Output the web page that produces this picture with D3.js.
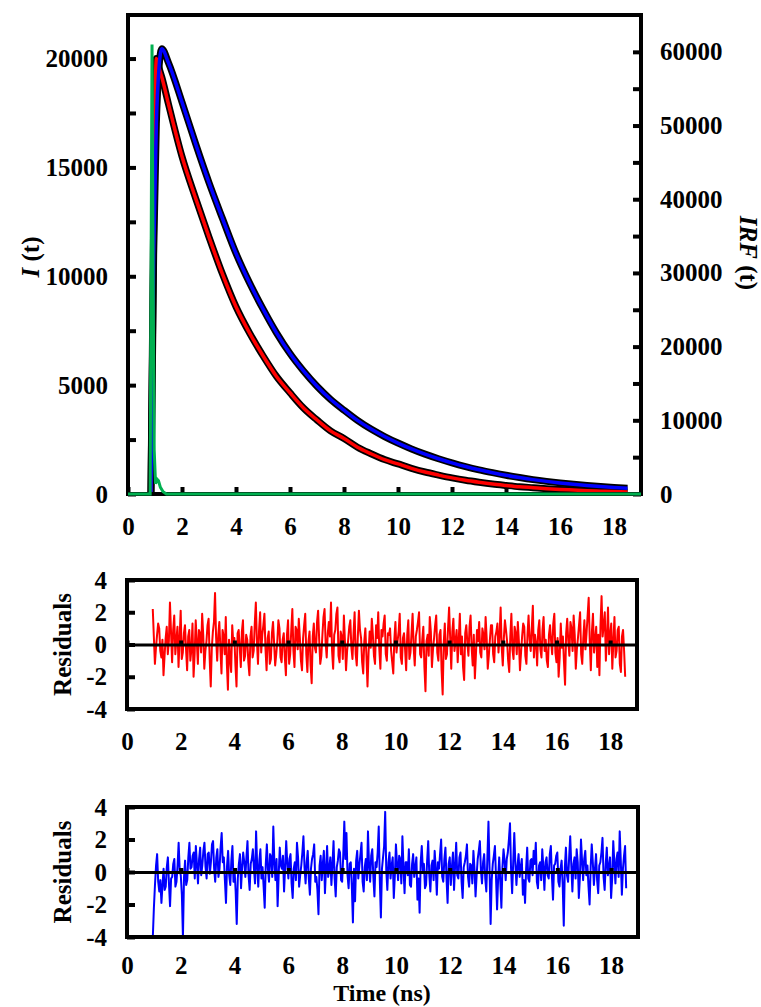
<!DOCTYPE html>
<html>
<head>
<meta charset="utf-8">
<script src="https://cdn.jsdelivr.net/npm/d3@7"></script>
<style>
body { margin: 0; background: #fff; }
svg text {
    font-family: "Liberation Serif", "Times New Roman", serif;
    font-weight: bold;
    font-size: 25px;
}
</style>
</head>
<body>
<svg id="chart" width="761" height="1007"></svg>
<script>
/*global d3 */
"use strict";

// decay curves (ns, counts)
var decayTime = [0.85, 0.95, 1.05, 1.15, 1.25, 1.5, 2, 2.5, 3, 3.5, 4,
        4.5, 5, 5.5, 6, 6.5, 7, 7.5, 8, 8.5, 9, 9.5, 10, 10.5, 11, 11.5,
        12, 12.5, 13, 13.5, 14, 14.5, 15, 15.5, 16, 16.5, 17, 17.5, 18,
        18.5];
var redDecay = [0, 12500, 20000, 19550, 19150, 17900, 15500, 13600,
        11800, 10100, 8600, 7400, 6350, 5400, 4650, 3950, 3400, 2900, 2550,
        2150, 1850, 1580, 1380, 1180, 1010, 870, 740, 630, 540, 460, 395,
        335, 290, 245, 210, 180, 150, 130, 110, 95];
var blueDecay = [0, 11000, 17000, 19600, 20450, 19800, 18000, 16100,
        14300, 12650, 11050, 9700, 8500, 7400, 6450, 5650, 4950, 4350, 3850,
        3380, 2980, 2640, 2340, 2070, 1830, 1620, 1430, 1260, 1110, 980, 860,
        755, 660, 580, 510, 450, 395, 345, 300, 260];

// instrument response, right axis
var irfTime = [0, 0.82, 0.86, 0.89, 0.93, 0.97, 1.02, 1.08, 1.13, 1.2,
        1.3, 1.42, 19];
var irfValues = [0, 0, 35000, 61000, 30000, 6000, 1400, 2000, 1800, 900,
        300, 0, 0];

// weighted residuals, one value per channel
var residualStart = 0.96; // ns
var residualStep = 0.04; // ns
var redResidual = [
    2.2, 0.5, -1.2, -0.2, 0.6, 1.3, 1.0, -0.4, -0.8, 0.3,
    -1.9, -0.7, 0.4, 1.1, -0.6, 0.2, 2.6, 0.8, -1.1, 0.9,
    1.8, -0.6, 0.3, 1.1, -1.4, 0.4, 2.1, -0.9, -0.5, 0.7,
    1.2, -0.3, -1.6, 0.5, 0.9, -1.0, -0.3, 1.3, -2.0, -0.6,
    1.5, 0.2, -1.2, 0.9, 0.7, -0.5, 1.9, 0.6, -1.5, -0.4,
    0.2, 1.2, 1.6, -0.9, -2.6, -0.2, 0.8, 1.4, 3.2, 0.4,
    -1.0, 0.6, 1.4, -0.3, -1.8, 0.9, 0.5, -0.6, 1.7, -1.2,
    -2.8, 0.3, -0.9, -1.7, 1.2, 0.1, 0.4, -1.3, -2.6, 0.7,
    0.9, -0.2, -1.4, 0.8, 1.5, -1.0, -0.7, 0.6, 0.3, -1.1,
    -1.9, 0.5, 1.1, -0.8, -0.4, 1.3, 2.6, 0.2, -1.2, 0.9,
    2.0, -0.5, 0.6, 1.2, 1.9, -0.3, -1.6, 0.4, 0.8, -1.2,
    -0.9, 0.7, 1.4, 0.1, -1.3, -0.6, 0.2, 1.5, 1.0, -0.8,
    -1.1, 0.3, 0.7, -0.8, -1.9, 0.6, 1.5, -1.2, -0.6, 0.9,
    2.2, -0.4, -1.4, 1.1, 0.9, -0.3, 1.6, 0.4, -1.0, -1.6,
    0.4, 1.2, 1.9, -0.6, -1.7, 0.2, 0.8, -1.3, -2.4, 0.5,
    1.3, -0.2, -0.5, 1.4, 2.1, 0.3, -1.2, -0.7, 0.6, 1.7,
    2.2, 0.1, -0.8, 0.7, 1.4, 0.5, 2.6, -0.4, -1.5, 0.6,
    0.9, 1.9, 2.3, -0.7, -1.1, 0.8, 0.5, -0.9, 1.8, 0.2,
    -1.6, -0.4, 0.3, 1.1, 1.5, -0.2, -0.9, 0.7, 2.0, -0.6,
    -1.3, 0.5, 2.1, 0.9, 0.4, -1.1, -1.8, 0.2, 1.0, -0.7,
    -2.6, -0.5, 0.8, -0.2, 1.6, 0.6, -0.7, -1.2, 1.2, 0.4,
    2.0, -0.3, -1.5, 0.9, 0.5, 1.3, 1.8, -0.6, -1.0, 0.7,
    0.6, 1.0, -0.4, -1.1, -1.8, 0.3, 1.4, -0.5, 0.2, 0.8,
    1.9, -0.8, -1.2, 0.4, 0.7, -0.3, -1.6, 0.6, 1.5, -0.9,
    -0.5, 0.7, 1.9, -0.2, -1.3, 0.5, 0.9, 1.4, 2.0, -0.6,
    -0.8, 0.3, 1.1, -1.4, -2.9, 0.2, 0.6, -0.7, 1.7, 0.8,
    -1.4, -0.3, 0.4, 1.2, 1.8, -0.5, -1.0, 0.6, 0.9, -1.6,
    -3.1, 0.1, 1.3, -0.9, -0.6, 1.0, 2.3, 0.4, -1.5, 0.8,
    1.6, -0.4, 0.2, 0.9, -1.1, 0.3, 1.9, -0.6, 0.5, -1.4,
    -2.2, 0.7, 1.2, 0.1, -0.7, 1.1, 1.8, -0.2, -1.3, 0.6,
    -2.1, -0.6, 0.9, 0.2, 1.4, -0.5, -0.8, 1.0, 0.6, -0.3,
    1.7, 0.4, -1.5, -0.7, 0.3, 1.2, 1.2, -0.6, -1.1, 0.5,
    0.8, 1.3, -0.5, 0.6, 2.3, -0.2, -1.3, 0.4, 1.5, 0.9,
    0.2, -1.0, -1.7, 0.5, 1.9, -0.3, -0.9, 1.1, 0.7, -0.6,
    1.4, 0.2, -1.6, -0.5, 0.5, 1.3, 1.1, -0.7, -1.2, 0.6,
    1.8, 0.3, -0.4, 1.0, 2.4, -0.8, 0.6, 0.1, -1.3, 0.9,
    1.5, -0.3, -0.8, 0.9, 1.7, -0.4, 0.3, -1.0, -1.4, 0.6,
    1.2, 0.2, -0.6, 1.3, 1.9, -0.5, -1.1, 0.4, -2.0, -0.8,
    1.3, -0.2, 0.5, -1.1, -2.5, 0.7, 1.6, 0.2, -0.7, 1.4,
    1.0, -0.4, 1.8, 0.6, -1.5, -0.3, 0.4, 1.2, 2.0, -0.6,
    -1.2, 0.4, 1.5, -0.3, 0.7, 1.8, 2.9, 0.2, -1.6, 0.8,
    1.9, -0.5, 0.3, 1.1, -1.4, 0.6, -1.9, 1.2, 3.0, 0.5,
    1.2, 2.0, -1.0, 0.4, 2.3, -0.6, 0.6, 1.3, -1.5, 0.2,
    1.7, -0.8, -0.4, 0.9, 1.1, -1.2, -1.7, 0.5, 0.9, -0.4,
    -2.0
];
var blueResidual = [
    -4.0, -2.2, -0.8, 0.4, 1.1, -0.6, -1.2, -0.5, -1.9, -0.8,
    0.2, -1.1, -0.9, 0.3, 0.9, -0.7, -2.1, -0.4, -0.3, 0.5,
    0.8, -0.9, -0.6, 0.4, 1.8, 0.1, -0.2, -1.4, -4.0, -0.3,
    0.7, -0.8, -0.5, 0.9, 1.8, 0.2, 0.3, 1.0, 1.2, -0.4,
    1.6, 0.5, -0.7, 0.8, 1.5, -0.2, 0.4, 1.3, 1.8, 0.3,
    -0.4, 1.1, 1.2, -0.1, 0.6, 1.7, 1.9, 0.2, -0.6, 0.9,
    1.4, -0.3, 0.2, 1.5, 2.4, 0.6, 0.9, -0.5, -1.9, 0.4,
    1.3, -0.2, -0.8, 0.7, 1.6, -0.6, 0.1, -1.2, -3.2, -0.4,
    0.5, 1.1, -1.0, 0.3, 1.2, 0.6, -0.3, 0.9, 1.9, -0.2,
    -1.1, 0.5, 0.8, 1.4, 0.2, -0.7, 2.5, 0.4, -0.9, 0.7,
    1.4, -0.4, 0.3, -0.9, -2.2, 0.5, 1.7, 0.2, -0.6, 1.1,
    0.9, -0.3, 2.8, 0.6, -0.5, 0.8, -2.1, -0.2, 1.5, 0.4,
    0.2, 1.0, -1.2, 0.3, 1.9, 0.5, -0.4, 0.8, 1.1, -0.7,
    -1.6, 0.2, 0.6, -0.5, 1.8, 0.9, -0.9, -0.2, 0.4, 1.2,
    2.2, 0.3, -0.7, 0.6, 1.3, -0.4, -1.4, 0.2, 0.8, 1.1,
    1.7, -0.6, -0.3, -1.1, -2.6, 0.4, 1.0, -0.5, 0.5, 1.3,
    -1.3, 0.2, 1.6, -0.3, 0.2, 0.9, -0.8, 0.5, 1.9, -0.4,
    -1.5, 0.3, 0.7, 1.4, 1.2, -0.5, -0.6, 1.0, 3.1, 0.8,
    2.4, -0.2, -1.0, 0.5, 0.6, -0.9, -3.1, 0.2, -1.8, 0.7,
    1.3, -0.4, 0.4, 1.1, 1.8, -0.6, -1.2, 0.3, 0.8, -0.5,
    2.5, 0.4, -0.6, 1.0, 1.4, -0.3, -1.5, 0.6, 0.3, 1.2,
    2.8, -0.5, -2.8, 0.2, 0.9, 1.6, 3.7, 0.1, -1.1, 0.6,
    1.2, -0.4, 0.4, 0.9, -1.6, -0.2, 1.7, 0.5, -0.5, 1.0,
    0.8, -0.7, 2.2, 0.3, -1.3, 0.6, 0.6, -0.2, 1.4, -0.8,
    -0.9, 0.5, 1.1, -0.3, 0.3, 0.9, -1.7, -0.4, -2.5, 0.6,
    1.6, 0.1, 0.5, -1.0, -0.8, 0.7, 1.9, -0.2, -1.2, 0.4,
    0.7, -0.5, 1.3, 0.2, -1.4, 0.6, 0.2, 1.1, 2.0, -0.3,
    -0.6, 0.8, 1.5, -0.4, -1.9, 0.5, 0.9, -0.8, 0.3, 1.2,
    -1.1, 0.4, 1.8, -0.2, -0.4, 0.9, 1.2, -0.6, -1.6, 0.3,
    0.6, 1.0, 1.7, -0.3, -0.9, 0.5, 0.4, -0.7, 1.3, 0.2,
    -1.5, -0.2, 0.8, 1.3, 1.9, 0.1, -0.7, 0.6, 1.1, -0.4,
    -1.2, 0.9, 3.1, 0.2, -3.2, -0.5, 0.5, 1.0, 1.6, -0.3,
    -2.3, -0.4, 0.9, -0.6, -2.2, 0.3, 1.4, 0.7, -0.5, 0.8,
    1.2, 2.0, 3.0, 0.2, -1.3, 0.6, 2.4, 0.5, -0.8, 0.4,
    1.1, -0.3, 0.3, 0.8, -1.4, -0.5, -1.9, 0.2, 1.5, -0.4,
    -0.6, 0.7, 0.8, -0.2, 1.3, 0.5, 1.8, -0.6, -1.0, 0.4,
    0.6, -0.5, 1.4, 0.3, -1.1, 0.6, 0.9, -0.2, -0.4, 1.1,
    1.6, -0.3, -1.7, 0.4, 0.5, 1.0, 1.2, -0.6, -0.9, 0.2,
    0.7, -0.8, -3.3, 0.3, 1.5, -0.2, -0.6, 0.9, 2.2, 0.4,
    -1.2, 0.5, 0.9, -0.4, 1.4, 0.6, -1.6, -0.3, 2.0, 0.7,
    -0.5, 0.8, 1.3, -0.2, 0.4, -0.9, -2.0, 0.3, 1.7, 0.6,
    -0.8, 0.2, 1.1, -0.5, -1.3, 0.4, 0.6, 1.2, 2.1, -0.3,
    -1.1, 0.5, 1.5, -0.2, 0.3, 0.9, -1.6, -0.4, 1.9, 0.6,
    -0.7, 0.8, 1.2, -0.3, 2.5, 0.7, -1.4, 0.2, 1.0, 1.6,
    -1.0
];

var timeTicks = [0, 2, 4, 6, 8, 10, 12, 14, 16, 18];
var intensityTicks = [0, 2500, 5000, 7500, 10000, 12500, 15000, 17500,
        20000];
var irfTicks = [0, 5000, 10000, 15000, 20000, 25000, 30000, 35000, 40000,
        45000, 50000, 55000, 60000];
var residualTicks = [-4, -2, 0, 2, 4];

(function () {
    var svg = d3.select("#chart");

    var addAxisGroup = function (spec) {
        var group = svg.append("g")
            .attr("transform",
                    "translate(" + spec.left + "," + spec.top + ")")
            .call(spec.axis);
        if (!spec.keepDomain) {
            group.select(".domain").remove();
        }
        group.selectAll(".tick line").attr("stroke-width", 4);
        return group;
    };

    var addFrame = function (box) {
        svg.append("rect")
            .attr("x", box.left)
            .attr("y", box.top)
            .attr("width", box.right - box.left)
            .attr("height", box.bottom - box.top)
            .attr("fill", "none")
            .attr("stroke", "#000")
            .attr("stroke-width", 4);
    };

    var addRotatedLabel = function (spec) {
        var text = svg.append("text")
            .attr("transform", "translate(" + spec.x + "," + spec.y +
                    ") rotate(" + spec.angle + ")")
            .attr("text-anchor", "middle")
            .attr("dy", "0.35em");
        spec.parts.forEach(function (part) {
            text.append("tspan")
                .attr("font-style", part.italic ? "italic" : "normal")
                .text(part.text);
        });
    };

    var plainFormat = function (d) {
        return String(d);
    };

    // ---- decay panel ----
    var decayBox = {left: 128, right: 641, top: 15, bottom: 494};

    var x = d3.scaleLinear().domain([0, 19])
        .range([decayBox.left, decayBox.right]);
    var yLeft = d3.scaleLinear().domain([0, 22000])
        .range([decayBox.bottom, decayBox.top]);
    var yRight = d3.scaleLinear().domain([0, 65000])
        .range([decayBox.bottom, decayBox.top]);

    addAxisGroup({
        left: 0,
        top: decayBox.bottom,
        axis: d3.axisBottom(x).tickValues(timeTicks).tickSize(-7)
            .tickPadding(23).tickFormat(plainFormat)
    });
    addAxisGroup({
        left: decayBox.left,
        top: 0,
        axis: d3.axisLeft(yLeft).tickValues(intensityTicks).tickSize(-8)
            .tickPadding(20).tickFormat(function (d) {
                return d % 5000 === 0 ? String(d) : "";
            })
    });
    addAxisGroup({
        left: decayBox.right,
        top: 0,
        axis: d3.axisRight(yRight).tickValues(irfTicks).tickSize(-8)
            .tickPadding(19).tickFormat(function (d) {
                return d % 10000 === 0 ? String(d) : "";
            })
    });

    var decayLine = function (values) {
        return d3.line()
            .x(function (d, i) {
                return x(decayTime[i]);
            })
            .y(function (d) {
                return yLeft(d);
            })
            .curve(d3.curveMonotoneX)(values);
    };

    [redDecay, blueDecay].forEach(function (values) {
        svg.append("path")
            .attr("d", decayLine(values))
            .attr("fill", "none")
            .attr("stroke", "#000")
            .attr("stroke-width", 7)
            .attr("stroke-linejoin", "round");
    });
    svg.append("path")
        .attr("d", decayLine(redDecay))
        .attr("fill", "none")
        .attr("stroke", "#ff0000")
        .attr("stroke-width", 3.5);
    svg.append("path")
        .attr("d", decayLine(blueDecay))
        .attr("fill", "none")
        .attr("stroke", "#0000ff")
        .attr("stroke-width", 3.5);

    addFrame(decayBox);

    var irfLine = d3.line()
        .x(function (d, i) {
            return x(irfTime[i]);
        })
        .y(function (d) {
            return yRight(d);
        });
    svg.append("path")
        .attr("d", irfLine(irfValues))
        .attr("fill", "none")
        .attr("stroke", "#00b050")
        .attr("stroke-width", 3);

    addRotatedLabel({x: 30, y: 257, angle: -90, parts: [
        {text: "I", italic: true}, {text: " (t)"}
    ]});
    addRotatedLabel({x: 749, y: 253, angle: 90, parts: [
        {text: "IRF", italic: true}, {text: " (t)"}
    ]});

    // ---- residual panels ----
    var residualPanel = function (box, values, colour, labelPadding) {
        var rx = d3.scaleLinear().domain([0, 19])
            .range([box.left, box.right]);
        var ry = d3.scaleLinear().domain([-4, 4])
            .range([box.bottom, box.top]);

        addAxisGroup({
            left: box.left,
            top: 0,
            axis: d3.axisLeft(ry).tickValues(residualTicks).tickSize(-8)
                .tickPadding(20).tickFormat(plainFormat)
        });
        addAxisGroup({
            left: 0,
            top: box.bottom,
            axis: d3.axisBottom(rx).tickValues(timeTicks).tickSize(0)
                .tickPadding(labelPadding).tickFormat(plainFormat)
        });

        var line = d3.line()
            .x(function (d, i) {
                return rx(residualStart + i * residualStep);
            })
            .y(function (d) {
                return ry(d);
            });
        svg.append("path")
            .attr("d", line(values))
            .attr("fill", "none")
            .attr("stroke", colour)
            .attr("stroke-width", 2)
            .attr("stroke-linejoin", "round");

        // zero line with the time ticks on it
        var zero = addAxisGroup({
            left: 0,
            top: ry(0),
            keepDomain: true,
            axis: d3.axisBottom(rx).tickValues(timeTicks).tickSize(-4)
                .tickSizeOuter(0).tickFormat("")
        });
        zero.select(".domain").attr("stroke-width", 3);

        addFrame(box);
        addRotatedLabel({x: 62, y: (box.top + box.bottom) / 2, angle: -90,
                parts: [{text: "Residuals"}]});
    };

    residualPanel({left: 127, right: 637, top: 580, bottom: 709},
            redResidual, "#ff0000", 23);
    residualPanel({left: 127, right: 638, top: 807, bottom: 937},
            blueResidual, "#0000ff", 19);

    svg.append("text")
        .attr("x", 382)
        .attr("y", 1001)
        .attr("text-anchor", "middle")
        .style("font-size", "24px")
        .text("Time (ns)");
}());
</script>
</body>
</html>
